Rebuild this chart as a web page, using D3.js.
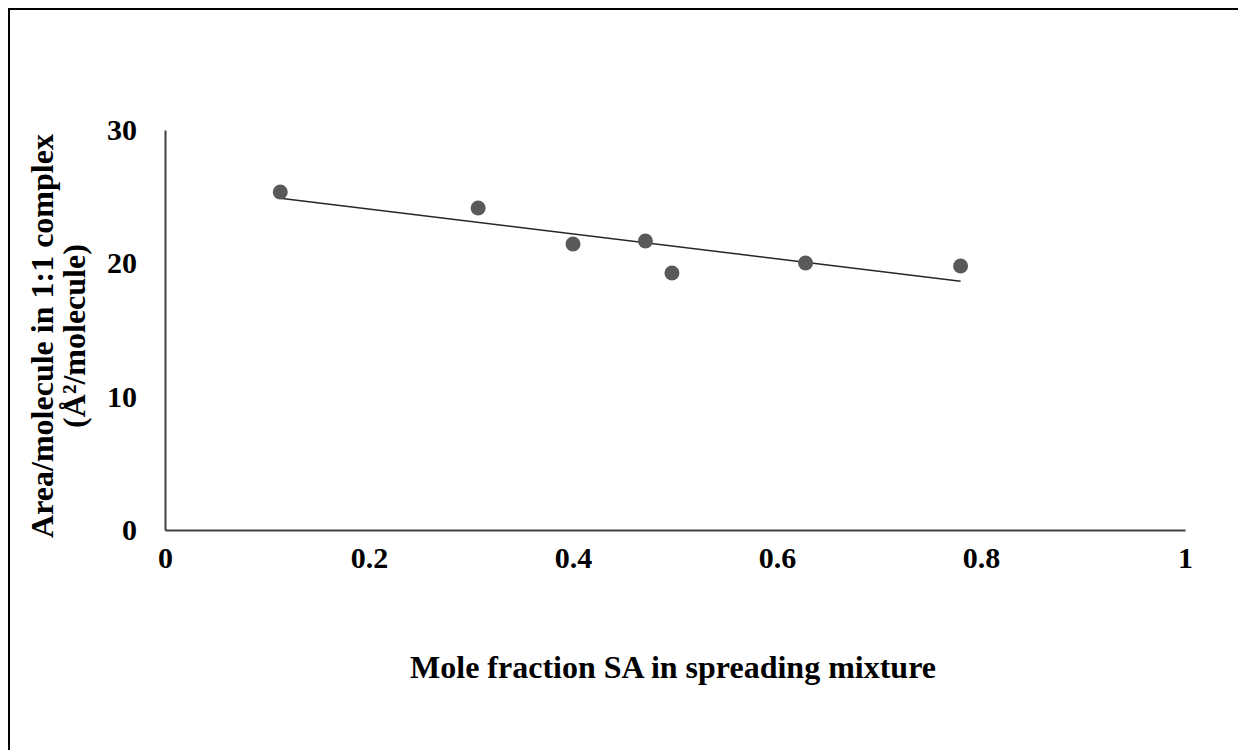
<!DOCTYPE html>
<html>
<head>
<meta charset="utf-8">
<script src="https://cdn.jsdelivr.net/npm/d3@7"></script>
<style>
  html, body { margin: 0; padding: 0; background: #fff; }
  svg { display: block; }
  text { font-family: "Liberation Serif", "Times New Roman", serif; font-weight: bold; fill: #000; }
</style>
</head>
<body>
<svg id="chart" width="1238" height="750"></svg>
<script>
// Mole fraction of SA in the spreading mixture
const moleFraction = [0.113, 0.307, 0.400, 0.471, 0.497, 0.628, 0.780];
// Area per molecule in the 1:1 complex (Å²/molecule)
const areaPerMolecule = [25.35, 24.15, 21.45, 21.68, 19.28, 20.03, 19.80];
const xTicks = [0, 0.2, 0.4, 0.6, 0.8, 1];
const yTicks = [0, 10, 20, 30];

const svg = d3.select("#chart");

// outer frame
svg.append("rect")
  .attr("x", 9).attr("y", 9)
  .attr("width", 1240).attr("height", 760)
  .attr("fill", "none").attr("stroke", "#000").attr("stroke-width", 2);

const plot = { left: 165, right: 1185, top: 130, bottom: 530 };
const x = d3.scaleLinear().domain([0, 1]).range([plot.left, plot.right]);
const y = d3.scaleLinear().domain([0, 30]).range([plot.bottom, plot.top]);

// axes
const xAxis = d3.axisBottom(x).tickValues(xTicks).tickSize(0).tickPadding(17)
  .tickFormat(d => d === 0 || d === 1 ? String(d) : d3.format(".1f")(d));
const yAxis = d3.axisLeft(y).tickValues(yTicks).tickSize(0).tickPadding(28);

const gx = svg.append("g").attr("transform", `translate(0,${plot.bottom})`).call(xAxis);
const gy = svg.append("g").attr("transform", `translate(${plot.left},0)`).call(yAxis);
[gx, gy].forEach(g => {
  g.attr("font-size", 30).attr("font-family", null);
  g.select(".domain").attr("stroke", "#404040").attr("stroke-width", 2);
  g.selectAll("text").attr("font-size", 30)
    .attr("font-weight", "bold").attr("fill", "#000");
});

// least-squares trendline over the data range
const n = moleFraction.length;
const mx = d3.mean(moleFraction), my = d3.mean(areaPerMolecule);
let sxy = 0, sxx = 0;
for (let i = 0; i < n; i++) {
  sxy += (moleFraction[i] - mx) * (areaPerMolecule[i] - my);
  sxx += (moleFraction[i] - mx) ** 2;
}
const slope = sxy / sxx, intercept = my - slope * mx;
const xr = d3.extent(moleFraction);
svg.append("line")
  .attr("x1", x(xr[0])).attr("y1", y(intercept + slope * xr[0]))
  .attr("x2", x(xr[1])).attr("y2", y(intercept + slope * xr[1]))
  .attr("stroke", "#262626").attr("stroke-width", 1.5);

// data points
svg.append("g").selectAll("circle")
  .data(moleFraction.map((v, i) => [v, areaPerMolecule[i]]))
  .join("circle")
  .attr("cx", d => x(d[0])).attr("cy", d => y(d[1]))
  .attr("r", 7.5).attr("fill", "#595959");

// axis titles
svg.append("text")
  .attr("x", 673).attr("y", 678)
  .attr("text-anchor", "middle").attr("font-size", 32)
  .text("Mole fraction SA in spreading mixture");

const yTitle = svg.append("text")
  .attr("transform", "translate(0,336) rotate(-90)")
  .attr("text-anchor", "middle").attr("font-size", 32);
yTitle.append("tspan").attr("x", 0).attr("y", 53).text("Area/molecule in 1:1 complex");
yTitle.append("tspan").attr("x", 0).attr("y", 85).text("(Å²/molecule)");
</script>
</body>
</html>
